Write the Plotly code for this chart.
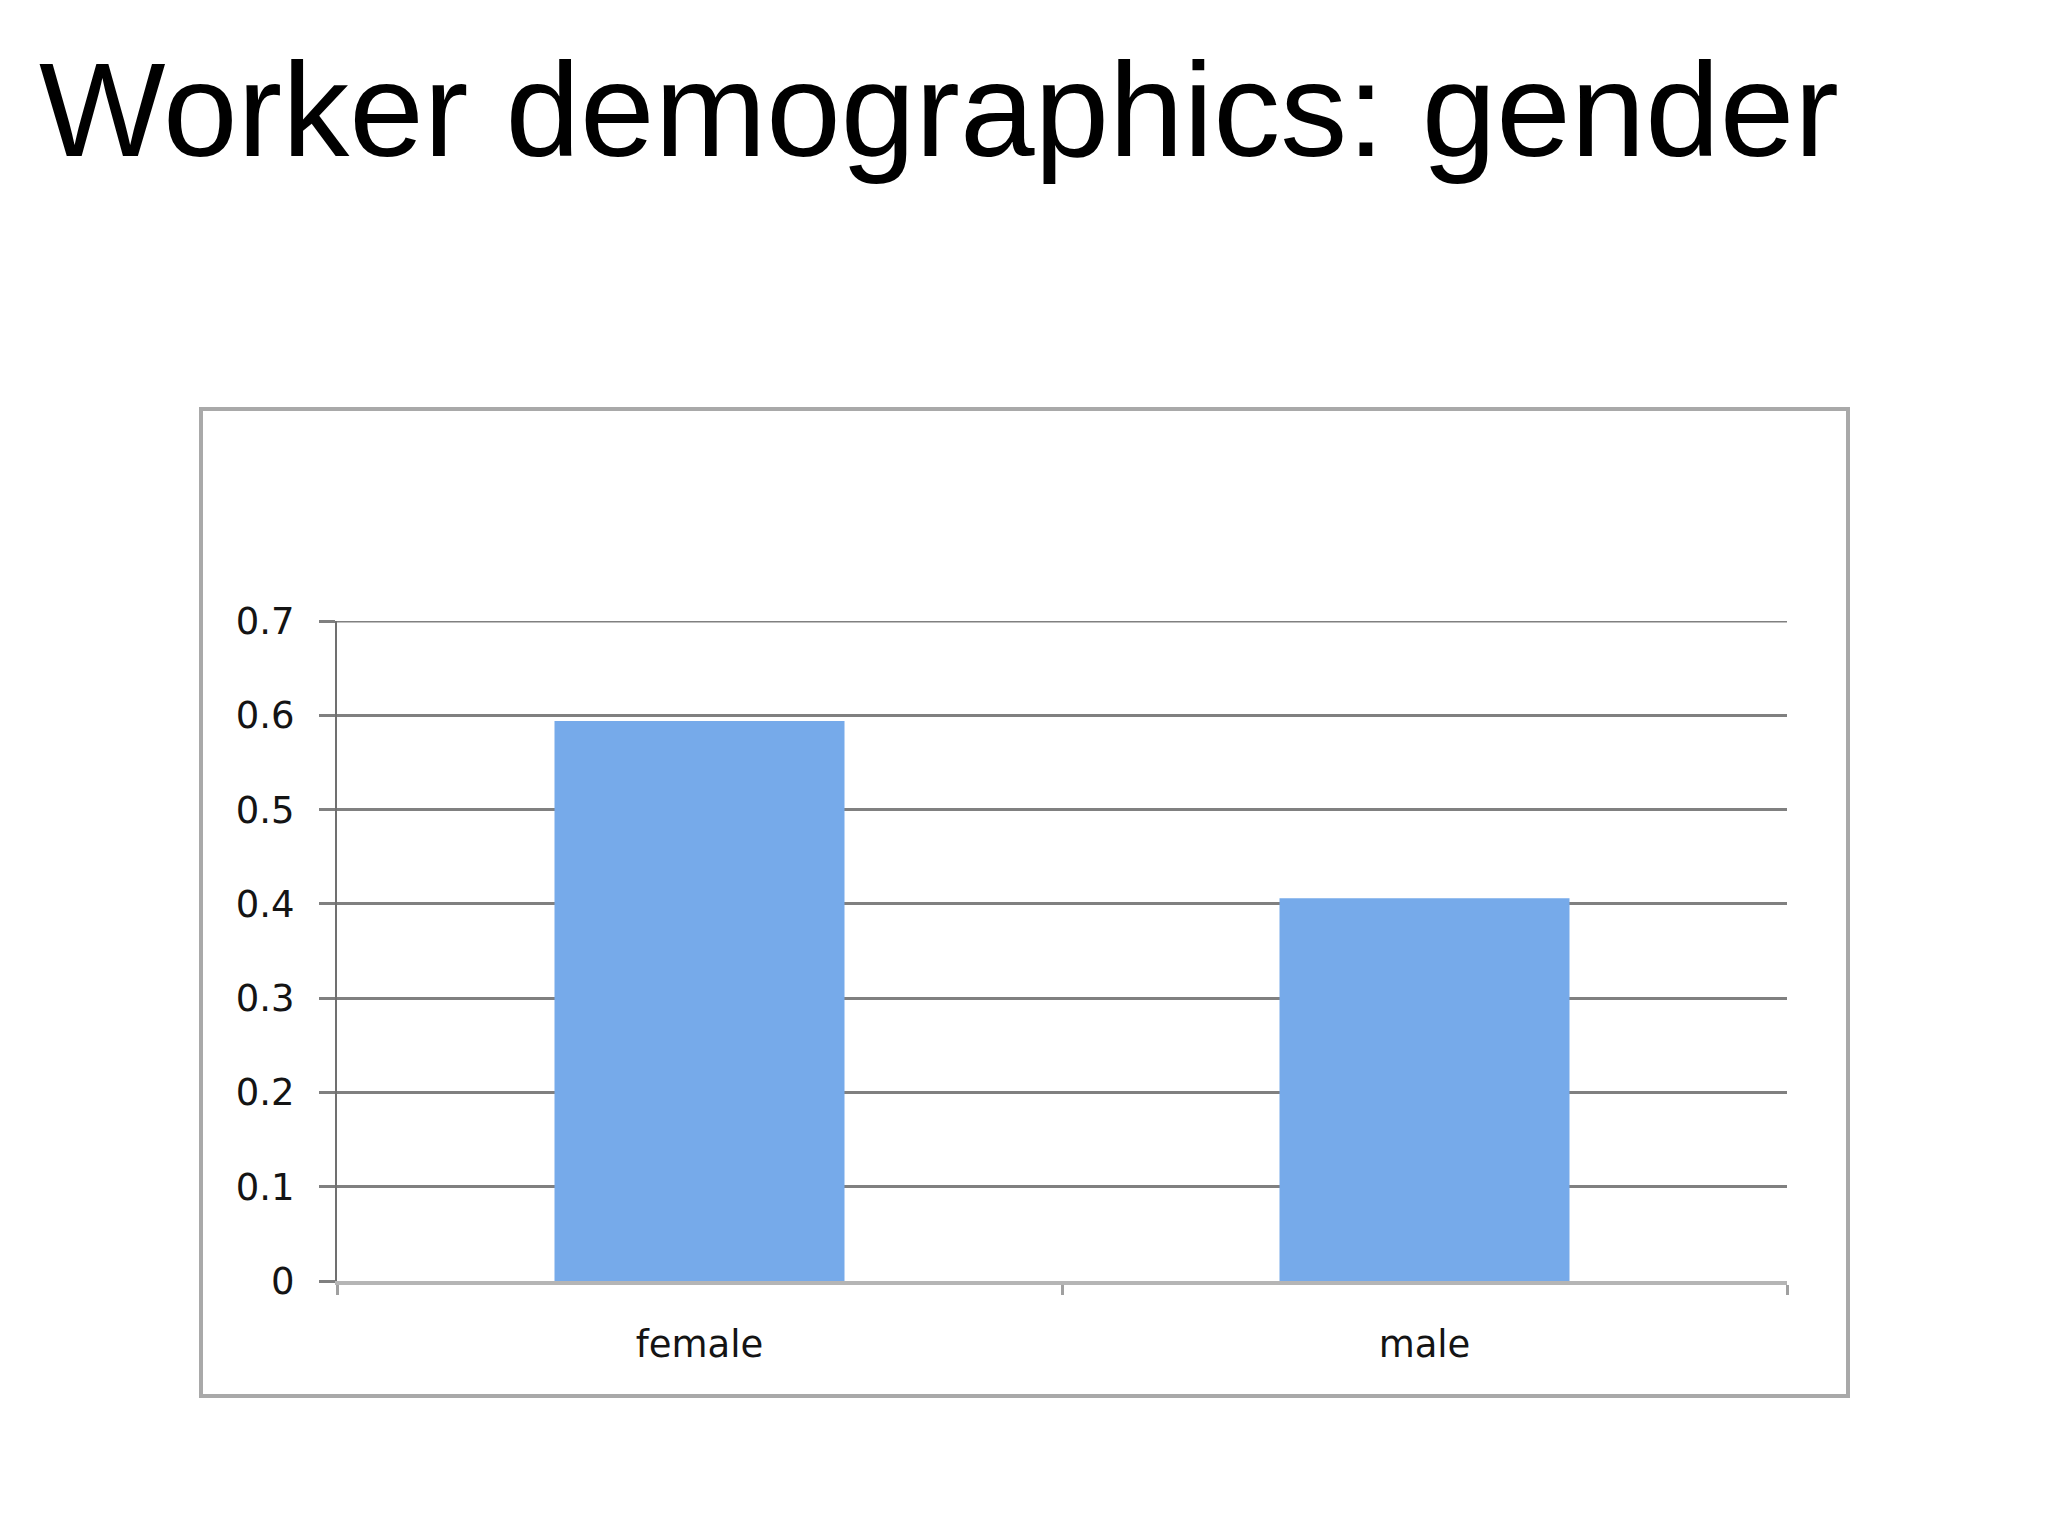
#!/usr/bin/env python3

import plotly.graph_objects as go

# Share of workers by gender
genders = ["female", "male"]
shares = [0.594, 0.406]
y_ticks = [0, 0.1, 0.2, 0.3, 0.4, 0.5, 0.6, 0.7]

title_text = "Worker demographics: gender"

W, H = 2048, 1536
# plot area in pixels
px_left, px_right, px_top, px_bottom = 329, 1779, 613, 1273

fig = go.Figure()

fig.add_trace(go.Bar(x=genders, y=shares,
                     marker=dict(color="#76aaea", line=dict(width=0)),
                     hoverinfo="skip"))

# top gridline (plotly drops the one sitting on the range edge)
fig.add_hline(y=y_ticks[-1], line=dict(color="#808080", width=3), layer="below")

# outer chart frame, in paper coords relative to the plot area
pw = px_right - px_left
ph = px_bottom - px_top
def to_paper_x(p):
    return (p - px_left) / pw
def to_paper_y(p):
    return (px_bottom - p) / ph

fig.add_shape(type="rect", xref="paper", yref="paper", layer="below",
              x0=to_paper_x(193), x1=to_paper_x(1840),
              y0=to_paper_y(1388), y1=to_paper_y(401),
              line=dict(color="#a9a9a9", width=4), fillcolor="rgba(0,0,0,0)")

fig.update_layout(
    width=W, height=H,
    margin=dict(l=px_left, r=W - px_right, t=px_top, b=H - px_bottom),
    paper_bgcolor="white", plot_bgcolor="white",
    showlegend=False,
    bargap=0.6,
    title=dict(text=title_text, x=31 / W, xanchor="left",
               yref="container", y=1 - 101 / H, yanchor="middle",
               font=dict(family="Liberation Sans, Arial", size=134, color="black")),
    font=dict(family="DejaVu Sans", size=37, color="#141414"),
)

fig.update_yaxes(range=[0, 0.7], tickvals=y_ticks,
                 showgrid=True, gridcolor="#808080", gridwidth=3,
                 zeroline=False,
                 showline=True, linecolor="#707070", linewidth=2,
                 ticks="outside", ticklen=16, tickcolor="#808080", tickwidth=3,
                 ticklabelstandoff=17, fixedrange=True)

fig.update_xaxes(showgrid=False, zeroline=False,
                 showline=True, linecolor="#b5b5b5", linewidth=4,
                 ticks="outside", tickson="boundaries", ticklen=10,
                 tickcolor="#a0a0a0", tickwidth=3,
                 ticklabelstandoff=28, fixedrange=True)

fig.write_html("out.html", config={"displayModeBar": False})
